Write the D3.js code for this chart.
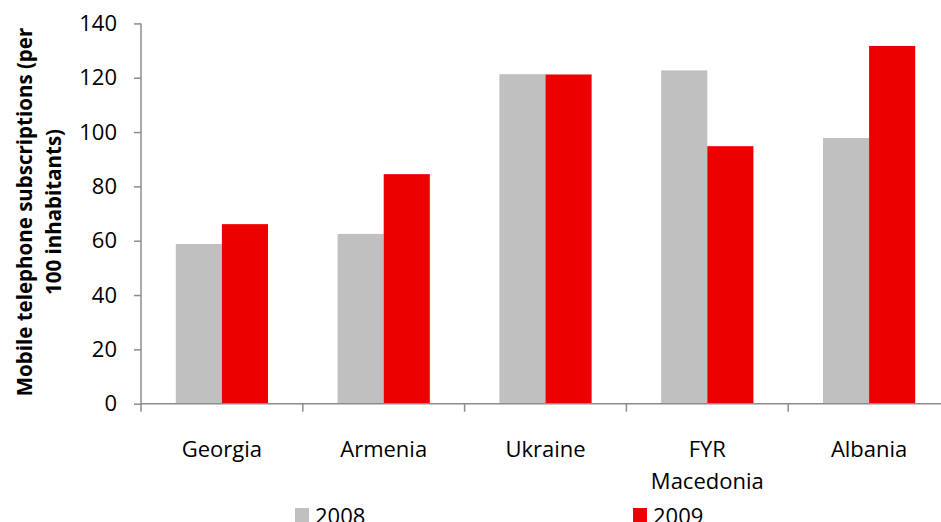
<!DOCTYPE html>
<html><head><meta charset="utf-8">
<script src="https://cdn.jsdelivr.net/npm/d3@7"></script>
<style>body{margin:0;background:#fff}svg{display:block}text{font-family:"Open Sans","Liberation Sans",sans-serif}</style>
</head><body><svg id="c" width="941" height="522"></svg>
<script>
const categories = ["Georgia", "Armenia", "Ukraine", "FYR Macedonia", "Albania"];
const series = ["2008", "2009"];
const values2008 = [58.8, 62.5, 121.3, 122.7, 97.8];
const values2009 = [66.1, 84.5, 121.2, 94.8, 131.7];
const yTicks = [0, 20, 40, 60, 80, 100, 120, 140];
const colors = ["#c0c0c0", "#ec0000"];

const svg = d3.select("#c");
const x = d3.scaleBand().domain(categories).range([141, 950]).paddingInner(0.43).paddingOuter(0.215);
const xs = d3.scaleBand().domain(series).range([0, x.bandwidth()]);
const y = d3.scaleLinear().domain([0, 140]).range([403.7, 23.4]);
const data = [values2008, values2009];

const g = svg.append("g");
series.forEach((s, si) => {
  g.selectAll(".b" + si).data(categories).enter().append("rect")
    .attr("x", d => x(d) + xs(s))
    .attr("y", (d, i) => y(data[si][i]))
    .attr("width", xs.bandwidth())
    .attr("height", (d, i) => y(0) - y(data[si][i]))
    .attr("fill", colors[si]);
});

// y axis
const ya = svg.append("g").attr("transform", "translate(141,0)")
  .call(d3.axisLeft(y).tickValues(yTicks).tickSize(7).tickPadding(17).tickFormat(d3.format("d")));
ya.select(".domain").attr("stroke", "#8c8c8c").attr("stroke-width", 1.5).attr("d", `M0,${y(140)}V${y(0)}`);
ya.selectAll(".tick line").attr("stroke", "#8c8c8c").attr("stroke-width", 1.5);
ya.selectAll(".tick text").attr("font-size", 22).attr("fill", "#000");

// x axis
const xa = svg.append("g").attr("transform", `translate(0,${y(0)})`);
xa.append("line").attr("x1", 141).attr("x2", 941).attr("stroke", "#8c8c8c").attr("stroke-width", 1.5);
const bounds = categories.map(c => x(c) - x.step() * x.paddingInner() / 2);
bounds.forEach(b => xa.append("line").attr("x1", b).attr("x2", b).attr("y1", 0).attr("y2", 8)
  .attr("stroke", "#8c8c8c").attr("stroke-width", 1.5));
categories.forEach(c => {
  const words = c === "FYR Macedonia" ? ["FYR", "Macedonia"] : [c];
  const t = xa.append("text").attr("text-anchor", "middle").attr("font-size", 22).attr("fill", "#000")
    .attr("x", x(c) + x.bandwidth() / 2).attr("y", 53);
  words.forEach((w, i) => t.append("tspan").attr("x", x(c) + x.bandwidth() / 2).attr("dy", i ? 32 : 0).text(w));
});

// y title
const yt = svg.append("text").attr("transform", "translate(32,212) rotate(-90)")
  .attr("text-anchor", "middle").attr("font-size", 20.5).attr("font-weight", "bold").attr("fill", "#000");
yt.append("tspan").attr("x", 0).attr("dy", 0).text("Mobile telephone subscriptions (per");
yt.append("tspan").attr("x", 0).attr("dy", 29).text("100 inhabitants)");

// legend
const legX = [295, 633];
series.forEach((s, i) => {
  svg.append("rect").attr("x", legX[i]).attr("y", 508).attr("width", 14).attr("height", 14).attr("fill", colors[i]);
  svg.append("text").attr("x", legX[i] + 20).attr("y", 523.5).attr("font-size", 22).attr("fill", "#000").text(s);
});
</script></body></html>
